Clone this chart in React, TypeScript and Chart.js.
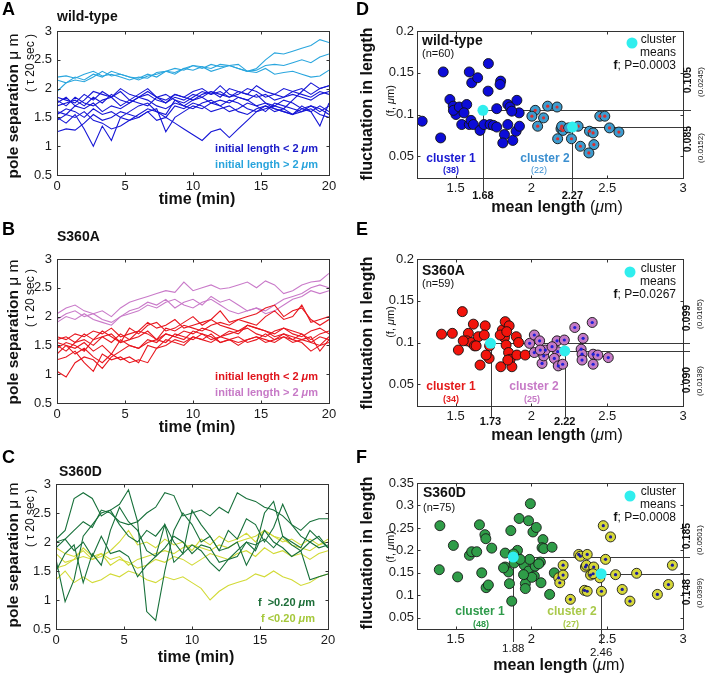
import React, { useEffect, useRef } from "react";
import { Chart, registerables } from "chart.js";
Chart.register(...registerables);

const FONT = '"Liberation Sans", Arial, Helvetica, sans-serif';
Chart.defaults.font.family = FONT;

// ---------- DATA ----------
const TIME_MIN = [0,0.67,1.33,2,2.67,3.33,4,4.67,5.33,6,6.67,7.33,8,8.67,9.33,10,10.67,11.33,12,12.67,13.33,14,14.67,15.33,16,16.67,17.33,18,18.67,19.33,20];
const TIME_TICKS = [0, 5, 10, 15, 20];
const SEP_TICKS = [0.5, 1, 1.5, 2, 2.5, 3];

const WT_SHORT: number[][] = [
  [1.25,1.3,1.28,1.4,1.55,1.45,1.5,1.6,1.55,1.5,1.6,1.45,1.5,1.4,1.3,1.2,1.1,1.25,1.3,1.15,1.3,1.45,1.6,1.65,1.7,1.65,1.8,1.95,2.1,2.0,2.05],
  [1.5,1.4,1.55,1.3,1.0,1.35,1.1,1.5,1.6,1.7,1.75,1.6,1.55,1.8,1.7,1.65,1.75,1.8,1.7,1.6,1.65,1.75,1.7,1.6,1.75,1.7,1.65,1.6,1.7,1.65,1.55],
  [1.45,1.55,1.5,1.6,1.45,1.4,1.3,1.35,1.45,1.5,1.6,1.65,1.25,1.5,1.6,1.7,1.65,1.75,1.8,1.75,1.85,1.8,1.7,1.75,1.65,1.6,1.55,1.7,1.6,1.35,1.75],
  [1.7,1.75,1.8,1.7,1.85,1.75,1.9,1.8,1.75,1.85,1.9,1.8,1.75,1.85,1.8,1.9,1.85,1.95,1.9,1.85,1.95,1.9,1.85,1.9,1.8,1.85,1.9,1.85,1.8,1.9,1.95],
  [1.85,1.8,1.75,1.9,1.8,1.95,1.85,1.7,1.8,1.9,2.0,1.85,1.75,1.9,1.85,1.8,1.9,1.95,1.85,2.0,1.95,1.9,2.05,1.95,1.9,1.85,1.95,2.0,1.9,2.0,2.05],
  [1.8,1.7,1.85,1.75,1.7,1.8,1.85,1.95,1.8,1.75,1.7,1.85,1.9,1.8,1.75,1.85,1.95,1.9,2.05,1.9,1.85,1.8,1.9,1.75,1.7,1.8,1.75,1.65,1.7,1.6,1.7],
  [1.6,1.55,1.7,1.65,1.75,1.6,1.7,1.65,1.75,1.85,1.8,1.7,1.65,1.75,1.7,1.8,1.85,1.75,1.7,1.8,1.75,1.65,1.6,1.7,1.65,1.6,1.55,1.65,1.6,1.7,1.6],
  [1.75,1.85,1.7,1.8,1.95,1.9,1.85,2.0,1.9,1.85,1.95,1.85,1.8,1.9,1.85,1.95,2.0,1.9,1.95,1.85,1.9,2.0,1.95,1.85,1.9,2.0,1.95,1.9,1.85,1.95,1.9],
  [1.55,1.65,1.6,1.5,1.65,1.55,1.6,1.5,1.45,1.55,1.65,1.6,1.5,1.7,1.65,1.75,1.7,1.6,1.65,1.7,1.6,1.55,1.65,1.7,1.6,1.65,1.55,1.6,1.65,1.55,1.5],
];
const WT_LONG: number[][] = [
  [2.2,2.22,2.18,2.25,2.3,2.22,2.25,2.2,2.15,2.2,2.18,2.28,2.3,2.35,2.32,2.4,2.35,2.42,2.38,2.4,2.35,2.3,2.35,2.5,2.62,2.6,2.65,2.7,2.75,2.85,2.8],
  [2.15,2.1,2.2,2.15,2.25,2.2,2.3,2.25,2.2,2.18,2.25,2.2,2.3,2.28,2.35,2.4,2.38,2.35,2.42,2.4,2.35,2.3,2.32,2.4,2.42,2.4,2.45,2.5,2.45,2.55,2.6],
  [1.95,2.1,2.15,2.12,2.2,2.3,2.22,2.25,2.2,2.15,2.22,2.25,2.3,2.25,2.35,2.32,2.38,2.3,2.35,2.4,2.42,2.3,2.28,2.35,2.25,2.28,2.3,2.25,2.2,2.22,2.32],
];
const S360A_SHORT: number[][] = [
  [1.05,0.95,1.2,1.3,1.25,1.1,1.3,1.4,1.5,1.45,1.55,1.6,1.7,1.65,1.75,1.7,1.8,1.75,1.65,1.7,1.75,1.8,1.7,1.65,1.75,1.8,1.7,1.65,1.75,1.8,1.7],
  [1.25,1.3,1.4,1.2,1.05,1.35,1.25,1.3,1.2,1.25,1.2,1.45,1.5,1.6,1.55,1.65,1.6,1.7,1.55,1.6,1.65,1.55,1.6,1.7,1.6,1.65,1.55,1.6,1.65,1.4,1.6],
  [1.35,1.5,1.45,1.55,1.4,1.5,1.35,1.6,1.5,1.45,1.6,1.55,1.7,1.65,1.6,1.75,1.7,1.6,1.65,1.75,1.7,1.85,1.8,1.75,1.65,1.7,1.6,1.7,1.55,1.5,1.65],
  [1.5,1.4,1.55,1.6,1.5,1.65,1.7,1.55,1.6,1.75,1.7,1.6,1.8,1.75,1.85,1.8,1.75,1.85,1.9,1.85,1.95,1.9,1.85,2.0,2.1,1.95,2.0,2.2,1.9,1.95,2.0],
  [1.6,1.65,1.55,1.7,1.6,1.75,1.65,1.55,1.8,1.7,1.85,1.9,1.75,1.8,1.9,2.0,1.85,1.95,2.1,1.9,1.95,2.0,2.05,2.15,2.2,2.0,2.1,2.15,1.95,1.85,1.95],
  [1.45,1.55,1.5,1.4,1.6,1.65,1.55,1.7,1.6,1.65,1.75,1.6,1.55,1.7,1.65,1.6,1.7,1.65,1.55,1.6,1.5,1.6,1.65,1.55,1.6,1.7,1.65,1.6,1.55,1.65,1.6],
  [1.65,1.6,1.7,1.65,1.75,1.7,1.8,1.65,1.7,1.75,1.9,1.8,1.85,1.95,1.8,1.85,1.9,1.95,1.85,1.8,1.75,1.85,1.8,1.75,1.7,1.8,1.75,1.7,1.6,1.7,1.75],
  [1.55,1.5,1.35,1.45,1.3,1.2,1.35,1.25,1.3,1.2,1.5,1.45,1.6,1.55,1.5,1.65,1.6,1.55,1.65,1.6,1.55,1.6,1.65,1.6,1.55,1.65,1.6,1.55,1.4,1.5,1.55],
];
const S360A_LONG: number[][] = [
  [2.05,2.15,2.2,2.1,2.05,2.1,2.0,2.15,2.25,2.3,2.35,2.4,2.45,2.42,2.6,2.45,2.5,2.55,2.48,2.5,2.55,2.6,2.5,2.62,2.55,2.4,2.45,2.55,2.6,2.62,2.75],
  [1.95,2.05,2.1,2.0,2.05,1.95,1.9,2.0,2.1,2.15,2.25,2.2,2.3,2.15,2.25,2.3,2.2,2.35,2.25,2.3,2.2,2.1,2.15,2.1,2.2,2.3,2.35,2.4,2.5,2.55,2.5],
  [1.9,2.0,1.95,2.05,1.95,1.9,1.85,2.0,2.05,2.1,2.2,2.15,2.25,2.3,2.2,2.15,2.25,2.3,2.2,2.1,2.05,2.1,2.15,2.05,2.1,2.2,2.3,2.35,2.45,2.4,2.45],
];
const S360D_HIGH_F: number[][] = [
  [2.05,2.2,2.75,2.85,2.75,2.45,2.55,2.65,2.9,2.35,2.5,2.6,2.85,2.8,2.45,2.5,2.55,2.45,2.6,2.5,2.85,2.75,2.7,2.6,2.55,2.45,2.3,2.2,2.35,2.4,2.4],
  [1.9,2.05,2.2,2.35,2.25,2.55,2.5,2.35,2.3,2.35,0.8,0.65,1.5,2.2,2.5,2.3,2.0,2.1,1.85,2.2,2.05,2.4,2.3,2.0,2.25,2.65,2.3,2.1,2.0,1.9,1.95],
  [1.7,0.97,1.35,2.1,2.3,2.5,2.55,2.3,2.1,2.0,2.2,2.1,2.3,2.0,1.8,2.55,2.3,2.1,1.85,1.9,2.0,1.6,1.9,2.5,2.7,2.1,2.0,1.9,2.2,2.05,1.9],
  [1.5,1.8,1.95,1.3,1.8,1.6,2.2,2.6,2.35,2.2,1.85,1.75,1.9,2.1,2.0,1.8,1.95,1.9,1.65,1.7,1.85,2.0,1.95,2.05,1.9,2.1,1.95,1.85,2.0,2.1,1.9],
  [2.0,2.05,1.85,2.0,1.75,2.1,1.8,1.85,1.75,1.4,1.6,1.75,2.3,1.65,1.8,1.95,1.85,1.65,1.5,1.7,1.75,2.0,1.85,2.2,2.0,1.9,1.75,1.85,1.35,1.4,1.45],
];
const S360D_LOW_F: number[][] = [
  [1.9,1.8,1.75,1.85,1.7,1.75,1.85,2.0,2.2,1.95,2.0,1.9,2.05,1.95,2.0,1.85,2.05,1.95,2.1,2.0,2.05,2.15,2.0,2.2,2.1,2.0,2.05,1.95,2.05,1.95,2.05],
  [1.55,1.6,1.7,1.9,1.75,1.8,1.7,1.75,1.6,1.7,1.75,1.8,1.85,1.8,1.9,1.95,1.9,1.85,1.95,1.9,2.0,2.05,2.1,2.2,2.1,2.05,1.95,1.9,1.85,1.95,2.0],
  [1.8,1.65,1.7,1.75,1.7,1.8,1.6,1.7,1.65,1.55,1.6,1.7,1.65,1.75,1.7,1.6,1.7,1.8,1.75,1.7,1.8,1.85,1.75,1.9,1.8,1.85,1.75,1.8,1.7,1.8,1.85],
  [1.35,1.5,1.3,1.4,1.3,1.35,1.45,1.4,1.5,1.45,1.35,1.3,1.4,1.35,1.4,1.3,1.2,1.0,1.15,1.25,1.3,1.35,1.45,1.4,1.5,1.4,1.35,1.25,1.3,1.4,1.45],
];

const LEN_TICKS = [1.5, 2, 2.5, 3];
const FLUC_TICKS = [0.05, 0.1, 0.15, 0.2];
const FLUC_TICKS_F = [0.05, 0.1, 0.15, 0.2, 0.25, 0.3, 0.35];

const WT_CLUSTER1: number[][] = [[1.279,0.092],[1.401,0.072],[1.418,0.151],[1.462,0.118],[1.484,0.110],[1.502,0.100],[1.485,0.105],[1.524,0.109],[1.573,0.112],[1.555,0.102],[1.540,0.088],[1.590,0.088],[1.601,0.093],[1.617,0.088],[1.590,0.151],[1.606,0.138],[1.645,0.144],[1.716,0.161],[1.714,0.128],[1.797,0.140],[1.793,0.136],[1.661,0.081],[1.687,0.088],[1.727,0.088],[1.749,0.087],[1.771,0.085],[1.771,0.107],[1.844,0.112],[1.859,0.109],[1.904,0.117],[1.919,0.102],[1.870,0.104],[1.822,0.076],[1.811,0.066],[1.877,0.069],[1.844,0.088],[1.899,0.080],[1.921,0.086]];
const WT_CLUSTER2: number[][] = [[2.025,0.105],[2.003,0.098],[2.080,0.096],[2.041,0.086],[2.107,0.110],[2.169,0.109],[2.195,0.083],[2.208,0.081],[2.173,0.071],[2.264,0.071],[2.308,0.086],[2.323,0.062],[2.383,0.080],[2.407,0.078],[2.412,0.064],[2.379,0.054],[2.451,0.098],[2.484,0.098],[2.515,0.084],[2.577,0.079],[2.200,0.086],[2.245,0.084]];
const WT_MEANS: number[][] = [[1.68,0.105],[2.27,0.085]];
const WT_SD = [0.0245, 0.0152];

const S360A_CLUSTER1: number[][] = [[1.407,0.110],[1.478,0.111],[1.518,0.091],[1.544,0.137],[1.584,0.111],[1.617,0.122],[1.573,0.102],[1.602,0.100],[1.624,0.096],[1.650,0.107],[1.661,0.073],[1.695,0.120],[1.689,0.109],[1.724,0.096],[1.721,0.081],[1.798,0.071],[1.808,0.115],[1.827,0.125],[1.853,0.120],[1.822,0.106],[1.833,0.097],[1.849,0.088],[1.860,0.080],[1.871,0.071],[1.900,0.107],[1.915,0.100],[1.904,0.085],[1.959,0.085],[1.794,0.109],[1.844,0.079],[1.635,0.096],[1.550,0.102],[1.837,0.113],[1.701,0.085]];
const S360A_CLUSTER2: number[][] = [[1.988,0.099],[2.019,0.109],[2.019,0.088],[2.054,0.102],[2.070,0.075],[2.081,0.084],[2.092,0.091],[2.058,0.091],[2.169,0.102],[2.217,0.103],[2.173,0.089],[2.151,0.081],[2.177,0.072],[2.206,0.074],[2.286,0.118],[2.341,0.105],[2.401,0.124],[2.328,0.092],[2.334,0.086],[2.334,0.079],[2.407,0.086],[2.438,0.085],[2.407,0.074],[2.507,0.082],[2.136,0.095]];
const S360A_MEANS: number[][] = [[1.73,0.099],[2.22,0.090]];
const S360A_SD = [0.0165, 0.0138];

const S360D_CLUSTER1: number[][] = [[1.396,0.255],[1.392,0.157],[1.485,0.211],[1.513,0.141],[1.591,0.189],[1.606,0.197],[1.639,0.197],[1.657,0.257],[1.672,0.150],[1.693,0.235],[1.699,0.226],[1.701,0.117],[1.716,0.123],[1.738,0.205],[1.827,0.194],[1.864,0.244],[1.827,0.163],[1.849,0.152],[1.855,0.126],[1.870,0.087],[1.908,0.200],[1.919,0.271],[1.981,0.266],[1.993,0.304],[2.010,0.241],[2.032,0.251],[1.953,0.167],[1.960,0.126],[1.960,0.115],[1.981,0.154],[2.019,0.143],[2.025,0.165],[2.059,0.174],[2.048,0.170],[2.063,0.128],[2.076,0.224],[2.070,0.206],[2.081,0.204],[2.136,0.207],[2.120,0.102],[2.151,0.150],[2.003,0.140],[1.988,0.180],[1.886,0.172],[1.816,0.161],[1.926,0.180],[1.882,0.192],[1.948,0.146]];
const S360D_CLUSTER2: number[][] = [[2.180,0.139],[2.187,0.128],[2.209,0.167],[2.209,0.145],[2.257,0.091],[2.312,0.191],[2.323,0.187],[2.368,0.191],[2.356,0.163],[2.363,0.167],[2.411,0.163],[2.390,0.145],[2.350,0.111],[2.368,0.109],[2.474,0.255],[2.522,0.230],[2.489,0.180],[2.451,0.139],[2.462,0.109],[2.555,0.146],[2.599,0.113],[2.650,0.087],[2.694,0.149],[2.831,0.102],[2.904,0.124],[2.930,0.167],[2.407,0.148]];
const S360D_MEANS: number[][] = [[1.88,0.185],[2.46,0.148]];
const S360D_SD = [0.0501, 0.0399];

// ---------- STYLE ----------
const CYAN = "#30eeee";
const TXT = "#111";

type Seg = [string, string];
type TextItem = { x: number; y: number; size: number; color: string; align: string; segs: Seg[]; rot?: boolean };
const tx = (x: number, y: number, size: number, color: string, align: string, segs: Seg[], rot = false): TextItem => ({ x, y, size, color, align, segs, rot });

const lineSets = (series: number[][], color: string) =>
  series.map((vals) => ({
    data: vals.map((v, i) => ({ x: TIME_MIN[i], y: v })),
    borderColor: color, borderWidth: 1.1, pointRadius: 0, fill: false, tension: 0,
  }));
const toXY = (pts: number[][]) => pts.map(([x, y]) => ({ x, y }));
const scatterSets = (c1: number[][], c2: number[][], means: number[][], col1: string, col2: string, dot: string, edge: string) => [
  { data: toXY(means), pointRadius: 5.5, backgroundColor: CYAN, borderWidth: 0, order: 0 },
  { data: toXY(c2), pointRadius: 1.6, backgroundColor: dot, borderWidth: 0, order: 1 },
  { data: toXY(c2), pointRadius: 5, backgroundColor: col2, borderColor: edge, borderWidth: 0.9, order: 2 },
  { data: toXY(c1), pointRadius: 5, backgroundColor: col1, borderColor: edge, borderWidth: 0.9, order: 3 },
];

const sepTitle = (cy: number, tauY: number) => [
  tx(17.5, cy, 15.5, TXT, "center", [["pole separation", "bold"], [" \u03bc m", "normal"]], true),
  tx(33.5, tauY, 12, TXT, "center", [["( \u03c4 20 sec )", "normal"]], true),
];
const flucTitle = (cy: number, subY: number) => [
  tx(371.5, cy, 16, TXT, "center", [["fluctuation in length", "bold"]], true),
  tx(393.5, subY, 11, TXT, "center", [["(f, ", "normal"], ["\u03bc", "italic"], ["m)", "normal"]], true),
];
const lenTitle = (cx: number, y: number) =>
  tx(cx, y, 16, TXT, "center", [["mean length", "bold"], [" (", "normal"], ["\u03bc", "italic"], ["m)", "normal"]]);
const micro = (pre: string): Seg[] => [[pre, "bold"], ["\u03bc", "italic bold"], ["m", "bold"]];
const legendBlock = (y0: number, p: string) => [
  tx(676, y0, 12, TXT, "right", [["cluster", "normal"]]),
  tx(676, y0 + 13, 12, TXT, "right", [["means", "normal"]]),
  tx(676, y0 + 26, 12, TXT, "right", [["f", "bold"], ["; P=" + p, "normal"]]),
];

type Guides = { means: number[][]; sd: number[]; rightX: number; dropY: number[]; labelY: number[]; labelStyle: string; labelSize: number; valY: number[]; sdY: number[] };
type Panel = {
  box: number[]; area: number[]; type: string; xr: number[]; yr: number[]; xTicks: number[]; yTicks: number[];
  tickPad: number; yPad: number; datasets: any[]; texts: TextItem[]; guides?: Guides; legendDot?: number[];
};

const LINE_BASE = { type: "line", xr: [0, 20], yr: [0.5, 3], xTicks: TIME_TICKS, yTicks: SEP_TICKS, tickPad: 4, yPad: 5 };
const SC_BASE = { type: "scatter", xr: [1.245, 3], xTicks: LEN_TICKS, tickPad: 3, yPad: 3 };

const PANELS: Panel[] = [
  {
    ...LINE_BASE, box: [0, 0, 354, 240], area: [57, 31, 329, 175],
    datasets: [...lineSets(WT_SHORT, "#1616d6"), ...lineSets(WT_LONG, "#2aa6de")],
    texts: [
      tx(2, 15, 18, "#000", "left", [["A", "bold"]]),
      tx(57, 21, 14, TXT, "left", [["wild-type", "bold"]]),
      ...sepTitle(106, 63),
      tx(197, 204, 16, TXT, "center", [["time (min)", "bold"]]),
      tx(318, 152, 11, "#1a1ac8", "right", micro("initial length < 2 ")),
      tx(318, 168, 11, "#29a4dc", "right", micro("initial length > 2 ")),
    ],
  },
  {
    ...LINE_BASE, box: [0, 220, 354, 240], area: [57, 259, 329, 403],
    datasets: [...lineSets(S360A_SHORT, "#e8171f"), ...lineSets(S360A_LONG, "#c97ac9")],
    texts: [
      tx(2, 235, 18, "#000", "left", [["B", "bold"]]),
      tx(57, 241, 14, TXT, "left", [["S360A", "bold"]]),
      ...sepTitle(332, 298),
      tx(197, 432, 16, TXT, "center", [["time (min)", "bold"]]),
      tx(318, 380, 11, "#e0141c", "right", micro("initial length < 2 ")),
      tx(318, 396, 11, "#c77ac7", "right", micro("initial length > 2 ")),
    ],
  },
  {
    ...LINE_BASE, box: [0, 440, 354, 234], area: [56, 484, 328, 629],
    datasets: [...lineSets(S360D_HIGH_F, "#17703a"), ...lineSets(S360D_LOW_F, "#d2da36")],
    texts: [
      tx(2, 463, 18, "#000", "left", [["C", "bold"]]),
      tx(59, 476, 14, TXT, "left", [["S360D", "bold"]]),
      ...sepTitle(555, 518),
      tx(196, 662, 16, TXT, "center", [["time (min)", "bold"]]),
      tx(315, 606, 11, "#1d6e38", "right", micro("f  >0.20 ")),
      tx(315, 622, 11, "#a5c83a", "right", micro("f <0.20 ")),
    ],
  },
  {
    ...SC_BASE, box: [354, 0, 354, 240], area: [417, 31, 683, 178], yr: [0.024, 0.2], yTicks: FLUC_TICKS,
    datasets: scatterSets(WT_CLUSTER1, WT_CLUSTER2, WT_MEANS, "#0c0cd8", "#3d9cce", "#d83030", "#111"),
    legendDot: [632, 43],
    guides: { means: WT_MEANS, sd: WT_SD, rightX: 691, dropY: [191, 191], labelY: [199, 199], labelStyle: "bold", labelSize: 11, valY: [80, 139], sdY: [82, 148] },
    texts: [
      tx(356, 15, 18, "#000", "left", [["D", "bold"]]),
      ...flucTitle(104, 101),
      lenTitle(557, 212),
      tx(422, 45, 14, TXT, "left", [["wild-type", "bold"]]),
      tx(422, 57, 11, TXT, "left", [["(n=60)", "normal"]]),
      ...legendBlock(43, "0.0003"),
      tx(451, 162, 12, "#1a1ad2", "center", [["cluster 1", "bold"]]),
      tx(451, 173, 9, "#1a1ad2", "center", [["(38)", "bold"]]),
      tx(545, 162, 12, "#3b8fd0", "center", [["cluster 2", "bold"]]),
      tx(539, 173, 9, "#3b8fd0", "center", [["(22)", "normal"]]),
    ],
  },
  {
    ...SC_BASE, box: [354, 220, 354, 240], area: [417, 259, 683, 406], yr: [0.024, 0.2], yTicks: FLUC_TICKS,
    datasets: scatterSets(S360A_CLUSTER1, S360A_CLUSTER2, S360A_MEANS, "#f2140c", "#c47ac4", "#2020d8", "#111"),
    legendDot: [630, 272],
    guides: { means: S360A_MEANS, sd: S360A_SD, rightX: 690, dropY: [417, 417], labelY: [425, 425], labelStyle: "bold", labelSize: 11, valY: [318, 380], sdY: [314, 381] },
    texts: [
      tx(356, 235, 18, "#000", "left", [["E", "bold"]]),
      ...flucTitle(333, 322),
      lenTitle(557, 440),
      tx(422, 275, 14, TXT, "left", [["S360A", "bold"]]),
      tx(422, 287, 11, TXT, "left", [["(n=59)", "normal"]]),
      ...legendBlock(272, "0.0267"),
      tx(451, 390, 12, "#e41a1a", "center", [["cluster 1", "bold"]]),
      tx(451, 402, 9, "#e41a1a", "center", [["(34)", "bold"]]),
      tx(534, 390, 12, "#c77ac7", "center", [["cluster 2", "bold"]]),
      tx(532, 402, 9, "#c77ac7", "center", [["(25)", "bold"]]),
    ],
  },
  {
    ...SC_BASE, box: [354, 440, 354, 234], area: [417, 483, 683, 629], yr: [0.025, 0.35], yTicks: FLUC_TICKS_F,
    datasets: scatterSets(S360D_CLUSTER1, S360D_CLUSTER2, S360D_MEANS, "#2f9c48", "#d6d83a", "#1c1c9c", "#1a1a1a"),
    legendDot: [630, 496],
    guides: { means: S360D_MEANS, sd: S360D_SD, rightX: 690, dropY: [642, 644], labelY: [652, 656], labelStyle: "normal", labelSize: 11.5, valY: [536, 592], sdY: [540, 593] },
    texts: [
      tx(356, 463, 18, "#000", "left", [["F", "bold"]]),
      ...flucTitle(553, 547),
      lenTitle(559, 670),
      tx(423, 497, 14, TXT, "left", [["S360D", "bold"]]),
      tx(423, 511, 11, TXT, "left", [["(n=75)", "normal"]]),
      ...legendBlock(495, "0.0008"),
      tx(480, 615, 12, "#2e9a4a", "center", [["cluster 1", "bold"]]),
      tx(481, 627, 9, "#2e9a4a", "center", [["(48)", "bold"]]),
      tx(572, 615, 12, "#a9c94a", "center", [["cluster 2", "bold"]]),
      tx(571, 627, 9, "#a9c94a", "center", [["(27)", "bold"]]),
    ],
  },
];

// ---------- DRAWING HELPERS ----------
function drawText(ctx: CanvasRenderingContext2D, it: TextItem, ox: number, oy: number) {
  ctx.save();
  ctx.fillStyle = it.color;
  ctx.textBaseline = "alphabetic";
  ctx.textAlign = "left";
  const fonts = it.segs.map((s) => `${s[1]} ${it.size}px ${FONT}`);
  const widths = it.segs.map((s, i) => { ctx.font = fonts[i]; return ctx.measureText(s[0]).width; });
  const total = widths.reduce((a, b) => a + b, 0);
  let start = it.align === "center" ? -total / 2 : it.align === "right" ? -total : 0;
  ctx.translate(it.x - ox, it.y - oy);
  if (it.rot) ctx.rotate(-Math.PI / 2);
  it.segs.forEach((s, i) => { ctx.font = fonts[i]; ctx.fillText(s[0], start, 0); start += widths[i]; });
  ctx.restore();
}

function makeOverlay(p: Panel) {
  const [ox, oy] = p.box;
  return {
    id: "overlay",
    beforeDatasetsDraw(chart: any) {
      const g = p.guides;
      if (!g) return;
      const { ctx, scales } = chart;
      ctx.save();
      ctx.strokeStyle = "#3a3a3a";
      ctx.lineWidth = 1;
      g.means.forEach(([mx, my], i) => {
        const px = Math.round(scales.x.getPixelForValue(mx)) + 0.5;
        const py = Math.round(scales.y.getPixelForValue(my)) + 0.5;
        ctx.beginPath();
        ctx.moveTo(px, py); ctx.lineTo(g.rightX - ox, py);
        ctx.moveTo(px, py); ctx.lineTo(px, g.dropY[i] - oy);
        ctx.stroke();
      });
      ctx.restore();
    },
    afterDatasetsDraw(chart: any) {
      const { ctx, chartArea: a, scales } = chart;
      const L = Math.round(a.left) + 0.5, R = Math.round(a.right) + 0.5;
      const T = Math.round(a.top) + 0.5, B = Math.round(a.bottom) + 0.5;
      ctx.save();
      ctx.strokeStyle = "#333";
      ctx.lineWidth = 1;
      ctx.strokeRect(L, T, R - L, B - T);
      ctx.beginPath();
      p.xTicks.forEach((v) => {
        const x = Math.round(scales.x.getPixelForValue(v)) + 0.5;
        if (x > L + 1 && x < R - 1) { ctx.moveTo(x, B); ctx.lineTo(x, B - 3); ctx.moveTo(x, T); ctx.lineTo(x, T + 3); }
      });
      p.yTicks.forEach((v) => {
        const y = Math.round(scales.y.getPixelForValue(v)) + 0.5;
        if (y > T + 1 && y < B - 1) { ctx.moveTo(L, y); ctx.lineTo(L + 3, y); ctx.moveTo(R, y); ctx.lineTo(R - 3, y); }
      });
      ctx.stroke();
      ctx.restore();
    },
    afterDraw(chart: any) {
      const { ctx, scales } = chart;
      p.texts.forEach((it) => drawText(ctx, it, ox, oy));
      if (p.legendDot) {
        ctx.save();
        ctx.fillStyle = CYAN;
        ctx.beginPath();
        ctx.arc(p.legendDot[0] - ox, p.legendDot[1] - oy, 5.5, 0, Math.PI * 2);
        ctx.fill();
        ctx.restore();
      }
      const g = p.guides;
      if (g) {
        g.means.forEach(([mx, my], i) => {
          const px = scales.x.getPixelForValue(mx);
          drawText(ctx, tx(px + ox, g.labelY[i], g.labelSize, TXT, "center", [[mx.toFixed(2), g.labelStyle]]), ox, oy);
          drawText(ctx, tx(g.rightX, g.valY[i], 10.5, TXT, "center", [[my.toFixed(3), "bold"]], true), ox, oy);
          drawText(ctx, tx(g.rightX + 12, g.sdY[i], 8, TXT, "center", [["(" + String(g.sd[i]) + ")", "normal"]], true), ox, oy);
        });
      }
    },
  };
}

function PanelChart({ p }: { p: Panel }) {
  const ref = useRef<HTMLCanvasElement>(null);
  const [bl, bt, bw, bh] = p.box;
  useEffect(() => {
    const [al, at, ar, ab] = p.area;
    const tickFont = { family: FONT, size: 13 };
    const chart = new Chart(ref.current as HTMLCanvasElement, {
      type: p.type as any,
      data: { datasets: p.datasets },
      options: {
        animation: false,
        responsive: false,
        maintainAspectRatio: false,
        devicePixelRatio: 1,
        events: [],
        layout: { padding: { left: 0, top: at - bt, right: bl + bw - ar, bottom: 0 } },
        plugins: { legend: { display: false }, tooltip: { enabled: false } },
        scales: {
          x: {
            type: "linear", position: "bottom", min: p.xr[0], max: p.xr[1],
            afterBuildTicks: (s: any) => { s.ticks = p.xTicks.map((v) => ({ value: v })); },
            afterFit: (s: any) => { s.height = bt + bh - ab; },
            grid: { display: false, drawTicks: false }, border: { display: false },
            ticks: { font: tickFont, color: "#1a1a1a", padding: p.tickPad, maxRotation: 0, minRotation: 0, autoSkip: false, callback: (v: any) => String(v) },
          },
          y: {
            type: "linear", position: "left", min: p.yr[0], max: p.yr[1],
            afterBuildTicks: (s: any) => { s.ticks = p.yTicks.map((v) => ({ value: v })); },
            afterFit: (s: any) => { s.width = al - bl; },
            grid: { display: false, drawTicks: false }, border: { display: false },
            ticks: { font: tickFont, color: "#1a1a1a", padding: p.yPad, autoSkip: false, callback: (v: any) => String(v) },
          },
        },
      } as any,
      plugins: [makeOverlay(p)],
    });
    return () => chart.destroy();
  }, [p]);
  return <canvas ref={ref} width={bw} height={bh} style={{ position: "absolute", left: bl, top: bt, width: bw, height: bh }} />;
}

export default function App() {
  return (
    <div style={{ position: "absolute", left: 0, top: 0, width: 708, height: 674, background: "#fff", overflow: "hidden" }}>
      {PANELS.map((p, i) => <PanelChart key={i} p={p} />)}
    </div>
  );
}
